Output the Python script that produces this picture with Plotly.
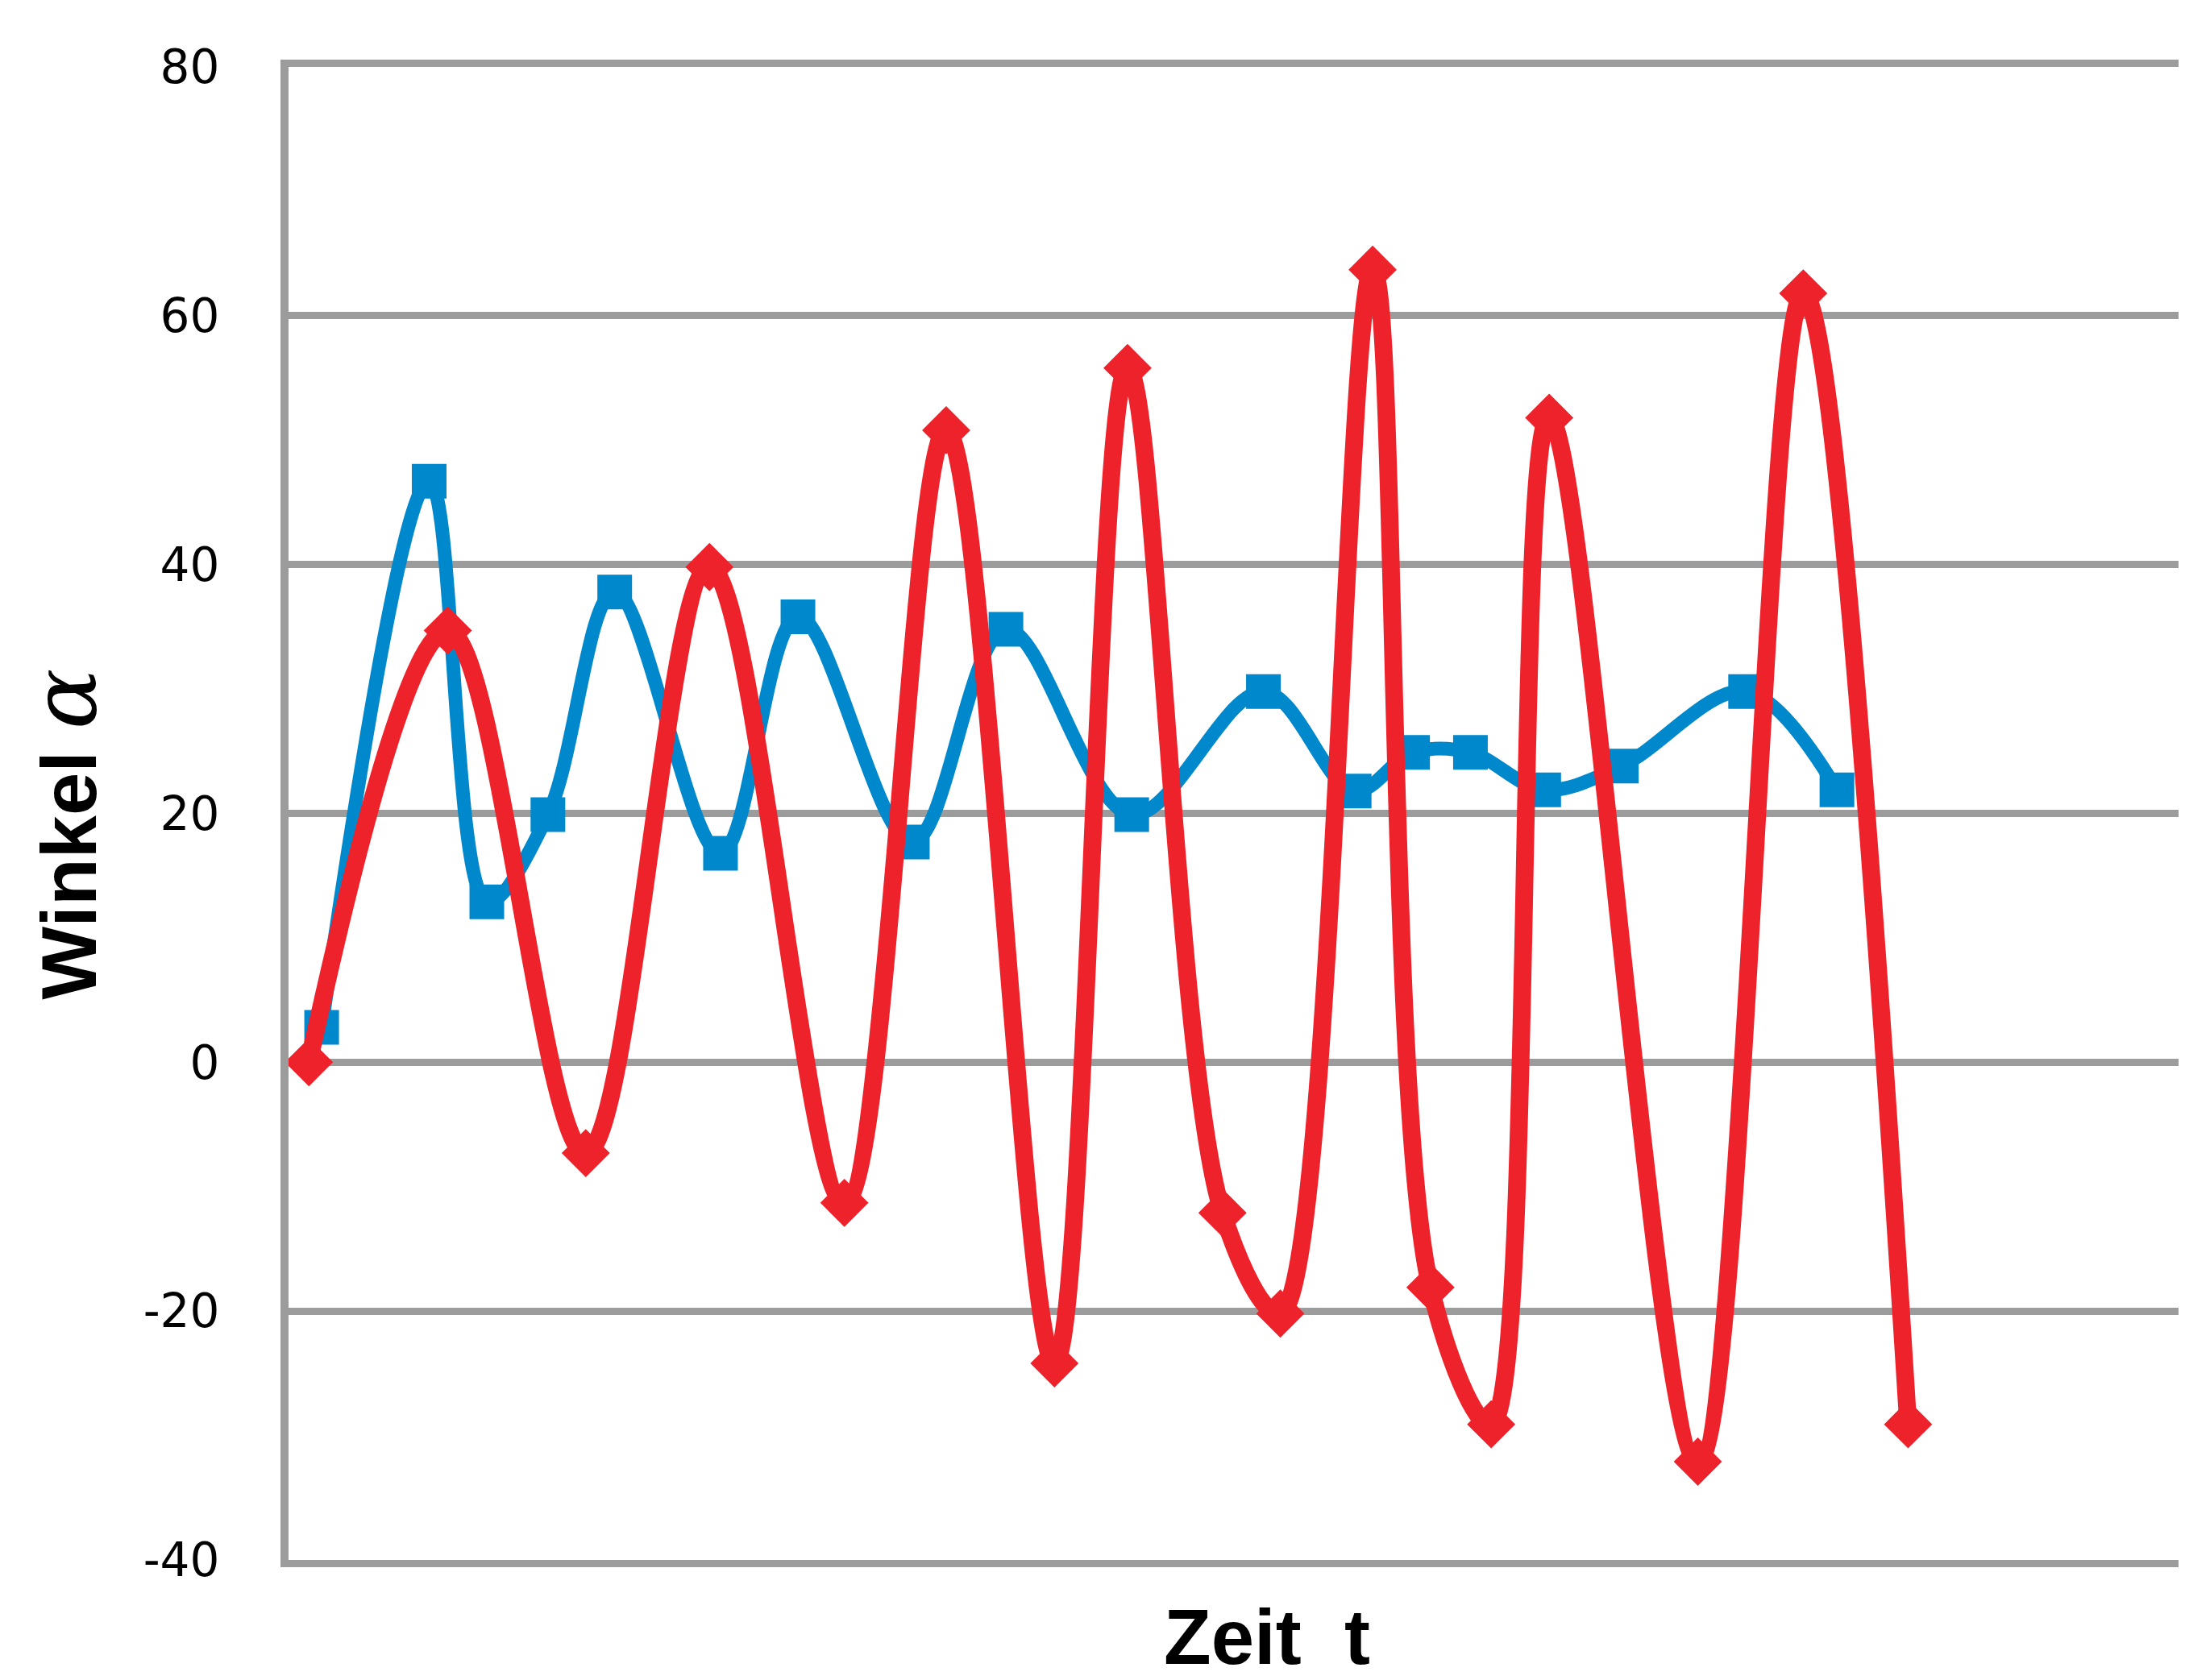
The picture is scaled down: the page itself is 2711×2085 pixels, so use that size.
import plotly.graph_objects as go

# ---- data (time in arbitrary units, angle in degrees) ----
blue_t = [0.174, 0.739, 1.042, 1.363, 1.714, 2.270, 2.677, 3.278, 3.770, 4.431,
          5.123, 5.600, 5.907, 6.211, 6.596, 7.004, 7.657, 8.137]
blue_a = [2.8, 46.7, 12.9, 19.9, 37.8, 16.8, 35.8, 17.7, 34.8, 19.9,
          29.8, 21.8, 24.9, 24.9, 21.9, 23.8, 29.8, 21.9]

red_t = [0.107, 0.837, 1.562, 2.212, 2.921, 3.456, 4.025, 4.409, 4.908, 5.212,
         5.697, 6.001, 6.320, 6.625, 7.406, 7.960, 8.511]
red_a = [0.0, 34.7, -7.3, 39.8, -11.3, 50.8, -24.2, 55.8, -12.1, -20.2,
         63.7, -18.1, -29.1, 51.8, -32.1, 61.8, -29.1]

y_ticks = [-40, -20, 0, 20, 40, 60, 80]
y_tick_text = ["-40", "-20", "0", "20", "40", "60", "80"]

BLUE = "#0088CC"
RED = "#EE222B"
GRAY = "#9B9C9B"

fig = go.Figure()
fig.add_trace(go.Scatter(
    x=blue_t, y=blue_a, mode="lines+markers",
    line=dict(color=BLUE, width=17, shape="spline", smoothing=1.0),
    marker=dict(symbol="square", size=43, color=BLUE),
    showlegend=False, cliponaxis=False,
))
fig.add_trace(go.Scatter(
    x=red_t, y=red_a, mode="lines+markers",
    line=dict(color=RED, width=22, shape="spline", smoothing=1.0),
    marker=dict(symbol="diamond", size=46, color=RED),
    showlegend=False, cliponaxis=False,
))

fig.update_layout(
    width=2711, height=2085,
    margin=dict(l=350, r=0, t=75, b=157),
    plot_bgcolor="white", paper_bgcolor="white",
    xaxis=dict(range=[0, 10], showgrid=False, zeroline=False,
               showticklabels=False, showline=True, mirror=True,
               linecolor=GRAY, linewidth=9),
    yaxis=dict(range=[-40, 80], tickvals=y_ticks, ticktext=y_tick_text,
               showgrid=True, gridcolor=GRAY, gridwidth=9, zeroline=False,
               showline=True, linecolor=GRAY, linewidth=10,
               ticks="", ticklabelstandoff=64,
               tickfont=dict(family="DejaVu Sans", size=58, color="black")),
    annotations=[
        dict(text="Zeit\u00a0\u00a0t", xref="paper", yref="paper",
             x=0.5142, y=-0.0815, xanchor="center", yanchor="bottom",
             showarrow=False,
             font=dict(family="Liberation Sans", size=96, color="black", weight="bold")),
        dict(text="Winkel <span style=\"font-family:'DejaVu Serif';font-style:italic;font-weight:normal;font-size:112px\">α</span>",
             xref="paper", yref="paper",
             x=-0.1177, y=0.486, xanchor="center", yanchor="middle",
             textangle=-90, showarrow=False,
             font=dict(family="Liberation Sans", size=96, color="black", weight="bold")),
    ],
)

fig.write_html("out.html")
